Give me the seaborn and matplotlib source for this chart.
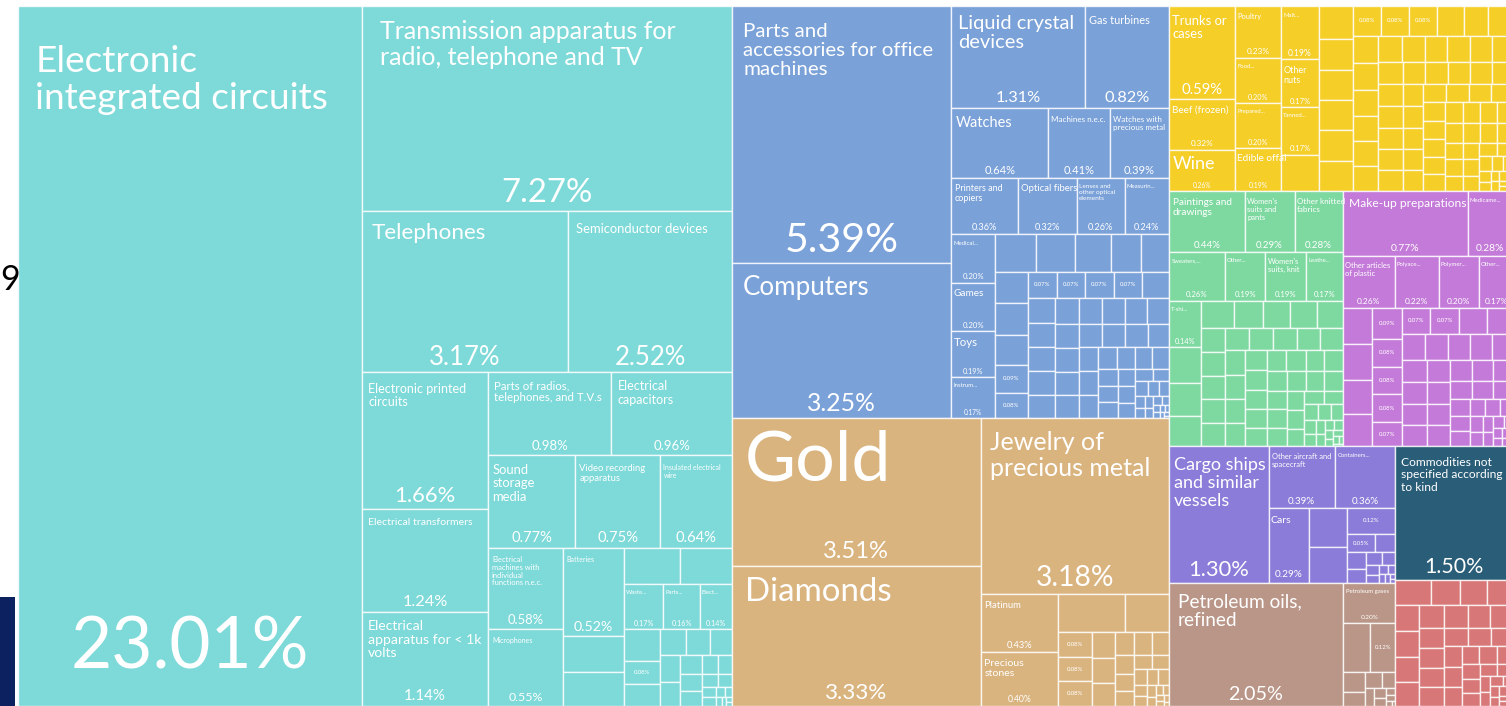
import seaborn as sns
import matplotlib.pyplot as plt
from matplotlib.patches import Rectangle

# ---- data: share of exports (%) per product, grouped by section ----
# labels: name shown in the cell, "" = only the share is shown, None = no label
ELEC_LABELS = ["Electronic\nintegrated circuits", "Transmission apparatus for\nradio, telephone and TV",
               "Telephones", "Semiconductor devices", "Electronic printed\ncircuits",
               "Electrical transformers", "Electrical\napparatus for < 1k\nvolts",
               "Parts of radios,\ntelephones, and T.V.s", "Electrical\ncapacitors", "Sound\nstorage\nmedia",
               "Video recording\napparatus", "Insulated electrical\nwire",
               "Electrical\nmachines with\nindividual\nfunctions n.e.c.", "Microphones", "Batteries",
               None, None, None, None, "Waste...", "Parts...", "Elect...", None, ""]
ELEC_SHARES = [23.01, 7.27, 3.17, 2.52, 1.66, 1.24, 1.14, 0.98, 0.96, 0.77, 0.75, 0.64, 0.58, 0.55, 0.52,
               0.21, 0.20, 0.19, 0.18, 0.17, 0.16, 0.14, 0.11, 0.08]
ELEC_SMALL = [0.075, 0.065, 0.06, 0.055, 0.05, 0.045, 0.04, 0.036, 0.032, 0.028, 0.024, 0.02, 0.017,
              0.014, 0.011, 0.009, 0.007, 0.005, 0.004, 0.003, 0.002]

INSTR_LABELS = ["Parts and\naccessories for office\nmachines", "Computers", "Liquid crystal\ndevices",
                "Gas turbines", "Watches", "Machines n.e.c.", "Watches with\nprecious metal",
                "Printers and\ncopiers", "Optical fibers", "Lenses and\nother optical\nelements", "Measurin...",
                "Medical...", "Games", "Toys", "Instrum...",
                None, None, None, None, None, None, None, None, "", "", "", "", "", "", None]
INSTR_SHARES = [5.39, 3.25, 1.31, 0.82, 0.64, 0.41, 0.39, 0.36, 0.32, 0.26, 0.24, 0.20, 0.20, 0.19, 0.17,
                0.15, 0.14, 0.13, 0.11, 0.10, 0.10, 0.10, 0.095, 0.09, 0.08, 0.07, 0.07, 0.07, 0.07, 0.065]
INSTR_SMALL = [0.065, 0.064, 0.063, 0.062, 0.060, 0.060, 0.058, 0.058, 0.057, 0.056, 0.055, 0.054, 0.052,
               0.052, 0.050, 0.049, 0.048, 0.046, 0.045, 0.043, 0.042, 0.040, 0.038, 0.036, 0.035, 0.033,
               0.031, 0.030, 0.028, 0.026, 0.024, 0.022, 0.020, 0.018, 0.016, 0.014, 0.012, 0.010, 0.009,
               0.008, 0.007, 0.006, 0.005, 0.004, 0.003, 0.003, 0.002, 0.002, 0.001]

STONE_LABELS = ["Gold", "Diamonds", "Jewelry of\nprecious metal", "Platinum", "Precious\nstones",
                None, None, "", "", ""]
STONE_SHARES = [3.51, 3.33, 3.18, 0.43, 0.40, 0.24, 0.16, 0.08, 0.08, 0.08]
STONE_SMALL = [0.055, 0.052, 0.05, 0.042, 0.04, 0.038, 0.034, 0.03, 0.028, 0.025, 0.022, 0.02, 0.018,
               0.016, 0.014, 0.012, 0.01, 0.008, 0.007, 0.006, 0.005, 0.004, 0.003, 0.002]

FOOD_LABELS = ["Trunks or\ncases", "Beef (frozen)", "Wine", "Poultry", "Food...", "Prepared...",
               "Edible offal", "Malt...", "Other\nnuts", "Tanned...",
               None, None, None, None, None, None, None, "", "", "", None, None, None]
FOOD_SHARES = [0.59, 0.32, 0.26, 0.23, 0.20, 0.20, 0.19, 0.19, 0.17, 0.17, 0.13, 0.11, 0.10, 0.10, 0.10,
               0.10, 0.10, 0.08, 0.08, 0.08, 0.075, 0.07, 0.07]
FOOD_SMALL = [0.065, 0.065, 0.063, 0.062, 0.06, 0.06, 0.058, 0.057, 0.056, 0.055, 0.054, 0.053, 0.052,
              0.051, 0.050, 0.050, 0.049, 0.048, 0.048, 0.047, 0.046, 0.046, 0.045, 0.044, 0.044, 0.043,
              0.042, 0.042, 0.041, 0.040, 0.040, 0.039, 0.038, 0.038, 0.037, 0.036, 0.036, 0.035, 0.034,
              0.034, 0.033, 0.032, 0.032, 0.031, 0.030, 0.029, 0.028, 0.027, 0.026, 0.025, 0.024, 0.022,
              0.020, 0.018, 0.016, 0.014, 0.012, 0.010, 0.009, 0.008, 0.007, 0.006, 0.005, 0.004, 0.003,
              0.002]

TEXT_LABELS = ["Paintings and\ndrawings", "Women's\nsuits and\npants", "Other knitted\nfabrics",
               "Sweaters,...", "Other...", "Women's\nsuits, knit", "Leathe...", "T-shi..."]
TEXT_SHARES = [0.44, 0.29, 0.28, 0.26, 0.19, 0.19, 0.17, 0.14]
TEXT_SMALL = [0.11, 0.10, 0.09, 0.085, 0.075, 0.07, 0.07, 0.065, 0.056, 0.055, 0.055, 0.054, 0.054,
              0.052, 0.051, 0.050, 0.049, 0.048, 0.047, 0.046, 0.045, 0.044, 0.043, 0.042, 0.041, 0.040,
              0.040, 0.040, 0.039, 0.038, 0.038, 0.037, 0.036, 0.036, 0.035, 0.035, 0.034, 0.034, 0.032,
              0.030, 0.028, 0.026, 0.024, 0.022, 0.020, 0.018, 0.016, 0.014, 0.012, 0.010, 0.009, 0.008,
              0.007, 0.006, 0.005, 0.004, 0.003, 0.002]

CHEM_LABELS = ["Make-up preparations", "Medicame...", "Other articles\nof plastic", "Polyace...",
               "Polymer...", "Other...", None, None, None, None, "", "", "", "", "", "", "", None, None]
CHEM_SHARES = [0.77, 0.28, 0.26, 0.22, 0.20, 0.17, 0.10, 0.10, 0.095, 0.09, 0.09, 0.08, 0.08, 0.08, 0.07,
               0.07, 0.07, 0.068, 0.065]
CHEM_SMALL = [0.060, 0.058, 0.056, 0.055, 0.054, 0.053, 0.052, 0.050, 0.050, 0.048, 0.048, 0.046,
              0.046, 0.044, 0.042, 0.040, 0.038, 0.036, 0.034, 0.032, 0.030, 0.028, 0.026, 0.024, 0.022,
              0.020, 0.018, 0.016, 0.014, 0.012, 0.010, 0.008, 0.007, 0.006, 0.005, 0.004, 0.003, 0.002]

TRANS_LABELS = ["Cargo ships\nand similar\nvessels", "Other aircraft and\nspacecraft", "Containers...",
                "Cars", None, None, "", ""]
TRANS_SHARES = [1.30, 0.39, 0.36, 0.29, 0.14, 0.13, 0.12, 0.05]
TRANS_SMALL = [0.035, 0.03, 0.025, 0.02, 0.016, 0.013, 0.01, 0.008, 0.006, 0.005, 0.004, 0.003, 0.002]

OIL_LABELS = ["Petroleum oils,\nrefined", "Petroleum gases", None, ""]
OIL_SHARES = [2.05, 0.20, 0.13, 0.12]
OIL_SMALL = [0.04, 0.03, 0.025, 0.02, 0.016, 0.012, 0.009, 0.007, 0.005, 0.003, 0.002]

NSK_LABELS = ["Commodities not\nspecified according\nto kind"]
NSK_SHARES = [1.50]
NSK_SMALL = []

METAL_LABELS = []
METAL_SHARES = []
METAL_SMALL = [0.085, 0.07, 0.065, 0.062, 0.06, 0.058, 0.058, 0.055, 0.054, 0.052, 0.05, 0.05, 0.048,
               0.046, 0.046, 0.044, 0.042, 0.04, 0.038, 0.036, 0.034, 0.032, 0.03, 0.03, 0.028, 0.026,
               0.024, 0.022, 0.02, 0.018, 0.016, 0.014, 0.012, 0.01, 0.009, 0.008, 0.007, 0.006, 0.005,
               0.004, 0.003, 0.002]

# ---- styles ----
COLORS = {"elec": "#7ed9d9", "instr": "#7aa1d8", "stone": "#dab47f", "food": "#f5ce28",
          "text": "#7ed9a1", "chem": "#c47ad8", "trans": "#8a7cd8", "oil": "#b99687",
          "nsk": "#2a5e78", "metal": "#d87777"}

# name label sizes in pixels
NAME_PX = {
    "Electronic\nintegrated circuits": 37, "Transmission apparatus for\nradio, telephone and TV": 25,
    "Telephones": 22.5, "Semiconductor devices": 13, "Electronic printed\ncircuits": 12.5,
    "Electrical transformers": 10.5, "Electrical\napparatus for < 1k\nvolts": 14,
    "Parts of radios,\ntelephones, and T.V.s": 11.5, "Electrical\ncapacitors": 12.5,
    "Sound\nstorage\nmedia": 13, "Video recording\napparatus": 9.5, "Insulated electrical\nwire": 7,
    "Electrical\nmachines with\nindividual\nfunctions n.e.c.": 7.5, "Microphones": 7, "Batteries": 7,
    "Parts and\naccessories for office\nmachines": 20.5, "Computers": 26, "Liquid crystal\ndevices": 20,
    "Gas turbines": 11, "Watches": 14.5, "Machines n.e.c.": 8, "Watches with\nprecious metal": 8,
    "Printers and\ncopiers": 9, "Optical fibers": 9.5, "Lenses and\nother optical\nelements": 6.5,
    "Games": 10, "Toys": 11.5,
    "Gold": 70, "Diamonds": 33, "Jewelry of\nprecious metal": 25, "Platinum": 9.5, "Precious\nstones": 10.5,
    "Trunks or\ncases": 13, "Beef (frozen)": 10, "Wine": 18, "Poultry": 7.5, "Edible offal": 10,
    "Other\nnuts": 9,
    "Paintings and\ndrawings": 10, "Women's\nsuits and\npants": 7.5, "Other knitted\nfabrics": 8,
    "Women's\nsuits, knit": 7.5, "Make-up preparations": 12, "Other articles\nof plastic": 7.5,
    "Cargo ships\nand similar\nvessels": 18, "Other aircraft and\nspacecraft": 7.5, "Cars": 10.5,
    "Petroleum oils,\nrefined": 19, "Commodities not\nspecified according\nto kind": 12,
}
PX = 0.72  # px -> pt at 100 dpi


def squarify(values, x0, y0, x1, y1):
    """classic squarified treemap (d3 squarify, ratio 1); values sorted descending"""
    rects = []
    total = float(sum(values))
    i0, n = 0, len(values)
    while i0 < n:
        dx, dy = x1 - x0, y1 - y0
        s = values[i0]
        i1 = i0 + 1
        vmin = vmax = s
        alpha = max(dy / dx, dx / dy) / total
        beta = s * s * alpha
        best = max(vmax / beta, beta / vmin)
        while i1 < n:
            v = values[i1]
            beta = (s + v) ** 2 * alpha
            r = max(max(vmax, v) / beta, beta / min(vmin, v))
            if r > best:
                break
            s += v
            vmin, vmax, best = min(vmin, v), max(vmax, v), r
            i1 += 1
        row = values[i0:i1]
        if dx < dy:
            ye = y0 + dy * s / total if i1 < n else y1
            xx = x0
            for v in row:
                w = dx * v / s
                rects.append((xx, y0, xx + w, ye))
                xx += w
            y0 = ye
        else:
            xe = x0 + dx * s / total if i1 < n else x1
            yy = y0
            for v in row:
                h = dy * v / s
                rects.append((x0, yy, xe, yy + h))
                yy += h
            x0 = xe
        total -= s
        i0 = i1
    return rects


groups = [
    ("elec", ELEC_LABELS, ELEC_SHARES, ELEC_SMALL),
    ("instr", INSTR_LABELS, INSTR_SHARES, INSTR_SMALL),
    ("stone", STONE_LABELS, STONE_SHARES, STONE_SMALL),
    ("food", FOOD_LABELS, FOOD_SHARES, FOOD_SMALL),
    ("text", TEXT_LABELS, TEXT_SHARES, TEXT_SMALL),
    ("chem", CHEM_LABELS, CHEM_SHARES, CHEM_SMALL),
    ("trans", TRANS_LABELS, TRANS_SHARES, TRANS_SMALL),
    ("oil", OIL_LABELS, OIL_SHARES, OIL_SMALL),
    ("nsk", NSK_LABELS, NSK_SHARES, NSK_SMALL),
    ("metal", METAL_LABELS, METAL_SHARES, METAL_SMALL),
]
groups.sort(key=lambda g: -(sum(g[2]) + sum(g[3])))

sns.set_theme(style="white")
plt.rcParams["font.family"] = ["Lato", "DejaVu Sans"]

W, H = 1495, 700
fig = plt.figure(figsize=(15.06, 7.06), dpi=100)
ax = fig.add_axes([18 / 1506, 0, W / 1506, H / 706])
ax.set_xlim(0, W)
ax.set_ylim(H, 0)
ax.axis("off")

group_rects = squarify([sum(g[2]) + sum(g[3]) for g in groups], 0, 0, W, H)

for (key, labels, shares, small), (gx0, gy0, gx1, gy1) in zip(groups, group_rects):
    vals = list(shares) + list(small)
    names = list(labels) + [None] * len(small)
    for name, v, (x0, y0, x1, y1) in zip(names, vals, squarify(vals, gx0, gy0, gx1, gy1)):
        w, h = x1 - x0, y1 - y0
        ax.add_patch(Rectangle((x0, y0), w, h, facecolor=COLORS[key],
                               edgecolor=(1, 1, 1, 0.8), linewidth=1.0))
        if name is None:
            continue
        pct = f"{v:.2f}%"
        if name == "":
            ax.text(x0 + w / 2, y0 + h / 2, pct, color="white", ha="center", va="center",
                    fontsize=6 * PX)
            continue
        npx = NAME_PX.get(name, 6)
        ax.text(x0 + 0.05 * w, y0 + 0.05 * h + 4, name, color="white", ha="left", va="top",
                fontsize=npx * PX, linespacing=1.15)
        pct_px = max(6, min(0.16 * h, w * 0.62 / (0.5 * len(pct))))
        ax.text(x0 + w / 2, y1 - 2 - min(0.16 * h, 1.6 * pct_px) / 2, pct, color="white",
                ha="center", va="center", fontsize=pct_px * PX)

# page bits around the chart
fig.text(10 / 1506, 1 - 280 / 706, "9", fontsize=34 * PX, color="black", ha="center", va="center")
fig.add_artist(Rectangle((0, 0), 15 / 1506, 109 / 706, transform=fig.transFigure,
                         facecolor="#0b2160", edgecolor="none"))

fig.savefig("out.png", dpi=100)
